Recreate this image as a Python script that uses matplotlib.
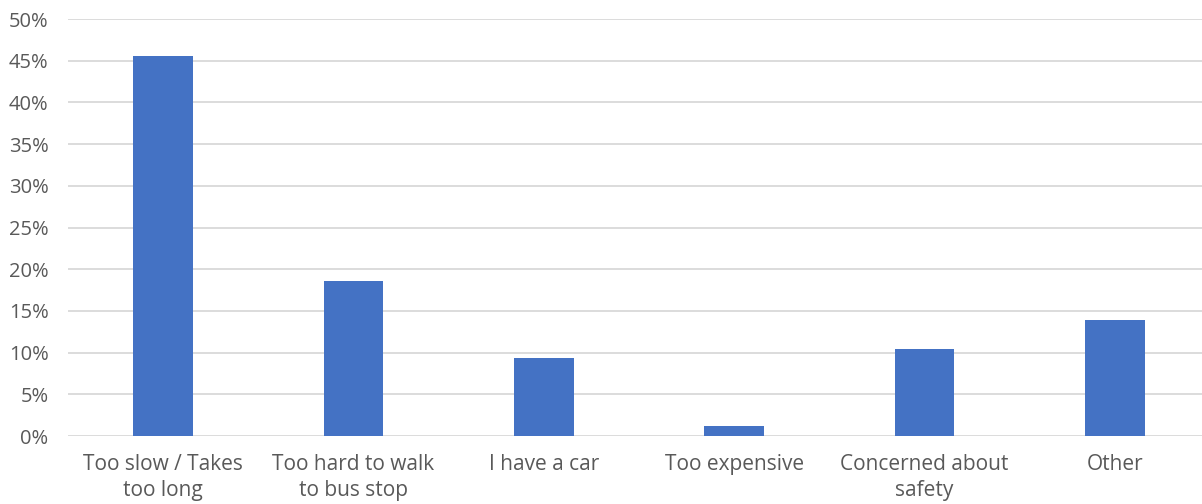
import numpy as np
import matplotlib.pyplot as plt
from matplotlib.ticker import PercentFormatter

# Reasons for not riding the bus (share of respondents)
reasons = ['Too slow / Takes\ntoo long', 'Too hard to walk\nto bus stop', 'I have a car',
           'Too expensive', 'Concerned about\nsafety', 'Other']
shares = [0.456, 0.186, 0.093, 0.012, 0.104, 0.139]
y_ticks = [0, 0.05, 0.10, 0.15, 0.20, 0.25, 0.30, 0.35, 0.40, 0.45, 0.50]

plt.rcParams['font.family'] = ['Open Sans', 'DejaVu Sans']
text_color = '#595959'

fig = plt.figure(figsize=(12.02, 5.04), dpi=100)
# plot area runs a little past the right edge of the canvas
ax = fig.add_axes([68 / 1202, 68 / 504, 1142 / 1202, (436 - 19) / 504])

x = np.arange(len(reasons))
ax.bar(x, shares, width=0.315, color='#4472C4', zorder=3)

ax.set_xlim(-0.5, len(reasons) - 0.5)
ax.set_ylim(0, 0.5)
ax.set_yticks(y_ticks)
ax.yaxis.set_major_formatter(PercentFormatter(1.0, decimals=0))
ax.set_xticks(x)
ax.set_xticklabels(reasons, linespacing=1.3, fontsize=15)

ax.grid(axis='y', color='#d9d9d9', linewidth=1.3, zorder=0)
for s in ax.spines.values():
    s.set_visible(False)
ax.tick_params(axis='both', length=0, colors=text_color)
ax.tick_params(axis='y', labelsize=14.5, pad=14)
ax.tick_params(axis='x', pad=13)

fig.savefig('out.png', dpi=100)
